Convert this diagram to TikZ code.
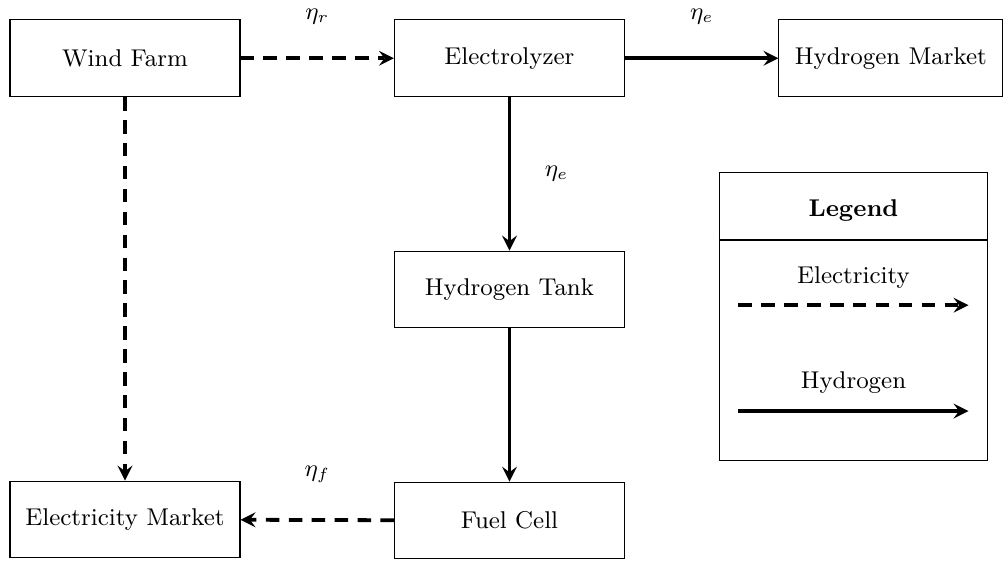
\documentclass[tikz,border=0pt]{standalone}
\usepackage{amsmath}
\usetikzlibrary{arrows,positioning}

\begin{document}
\begin{tikzpicture}[
    font=\small,
    node distance=2cm and 2cm,
    block/.style={draw, rectangle, minimum width=3cm, minimum height=1cm, align=center},
    elec/.style={->, line width=1.4pt, >=stealth, dash pattern=on 5pt off 3.5pt},
    hydro/.style={->, line width=1.4pt, >=stealth}
]
    \useasboundingbox (-1.63,-6.57) rectangle (11.45,0.76);

    % Top row
    \node [block] (wind) at (0,0) {Wind Farm};
    \node [block, right=of wind] (electrolyzer) {Electrolyzer};
    \node [block, minimum width=2.92cm, right=of electrolyzer] (hmarket) {Hydrogen Market};

    % Middle and bottom
    \node [block, below=of electrolyzer] (tank) {Hydrogen Tank};
    \node [block, below=of tank] (fuelcell) {Fuel Cell};
    \node [block, below=5cm of wind] (emarket) {Electricity Market};

    % Flows
    \draw [elec] (wind) -- (electrolyzer) node[midway, above=0.3cm] (etar) {$\eta_r$};
    \draw [hydro] (electrolyzer) -- (hmarket) node[midway, above=0.3cm] (etae) {$\eta_e$};
    \draw [hydro] (electrolyzer) -- (tank) node[midway, right=0.32cm] (etae2) {$\eta_e$};
    \draw [hydro] (tank) -- (fuelcell);
    \draw [elec] (fuelcell) -- (emarket) node[midway, above=0.35cm] (etaf) {$\eta_f$};
    \draw [elec] (wind) -- (emarket);

    % Legend
    \node [draw, minimum width=3.5cm, minimum height=3.75cm] (legend) at (9.5,-3.37) {};
    \node [font=\small\bfseries] (legtitle) at (9.5,-1.99) {Legend};
    \draw (legend.west |- 0,-2.37) -- (legend.east |- 0,-2.37);
    \node (legelec) at (9.5,-2.86) {Electricity};
    \coordinate (e1) at (8,-3.22);
    \coordinate (e2) at (11,-3.22);
    \draw [elec] (e1) -- (e2);
    \node (leghydro) at (9.5,-4.23) {Hydrogen};
    \coordinate (h1) at (8,-4.6);
    \coordinate (h2) at (11,-4.6);
    \draw [hydro] (h1) -- (h2);

\end{tikzpicture}
\end{document}
